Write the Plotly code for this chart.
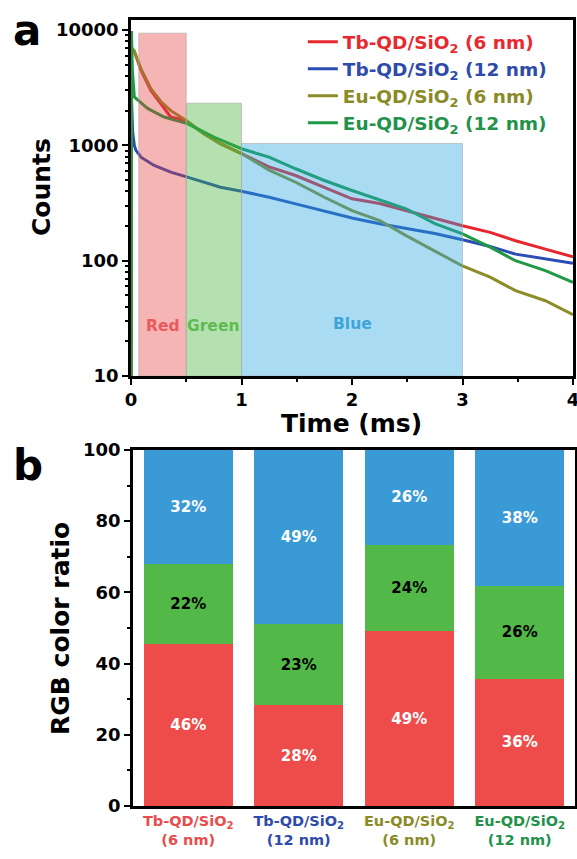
import math
import plotly.graph_objects as go

# ---------------- Panel a: decay curves ----------------
t_tb6 = [0, 0.005, 0.03, 0.09, 0.18, 0.27, 0.36, 0.48, 0.51, 0.66, 0.81, 1.0, 1.25, 1.49, 1.75, 2.0, 2.25, 2.49, 2.75, 3.0, 3.25, 3.48, 3.75, 4.0]
c_tb6 = [10, 7000, 6500, 4490, 3000, 2310, 1760, 1650, 1600, 1260, 1035, 850, 650, 548, 434, 344, 313, 272, 231, 201, 176, 149, 126, 108]

t_tb12 = [0, 0.004, 0.015, 0.03, 0.045, 0.09, 0.21, 0.36, 0.51, 0.81, 1.0, 1.25, 1.49, 1.75, 2.0, 2.25, 2.49, 2.75, 3.0, 3.25, 3.48, 3.75, 4.0]
c_tb12 = [10, 2600, 1300, 1000, 905, 790, 670, 586, 530, 434, 400, 355, 311, 270, 235, 209, 189, 172, 152, 133, 114, 104, 95]

t_eu6 = [0, 0.005, 0.03, 0.09, 0.18, 0.27, 0.36, 0.48, 0.51, 0.66, 0.81, 1.0, 1.25, 1.49, 1.75, 2.0, 2.25, 2.49, 2.75, 3.0, 3.25, 3.48, 3.75, 4.0]
c_eu6 = [10, 7000, 6600, 4600, 3100, 2400, 2000, 1700, 1620, 1260, 1030, 850, 610, 479, 355, 272, 223, 165, 122, 90, 72, 55, 45, 34]

t_eu12 = [0, 0.004, 0.012, 0.03, 0.15, 0.3, 0.51, 0.75, 1.0, 1.25, 1.49, 1.75, 2.0, 2.25, 2.49, 2.75, 3.0, 3.25, 3.48, 3.75, 4.0]
c_eu12 = [10, 9800, 4500, 2630, 2090, 1760, 1545, 1180, 935, 790, 627, 496, 406, 339, 282, 210, 171, 131, 100, 82, 65]

series_names = ["Tb-QD/SiO<sub>2</sub> (6 nm)", "Tb-QD/SiO<sub>2</sub> (12 nm)",
                "Eu-QD/SiO<sub>2</sub> (6 nm)", "Eu-QD/SiO<sub>2</sub> (12 nm)"]
line_colors = ["#E8262E", "#2B4DB3", "#8C8C28", "#1F9944"]
legend_text_colors = ["#E62A30", "#2E4BAA", "#8A8A26", "#22924A"]

# colour windows (shaded regions)
region_names = ["Red", "Green", "Blue"]
region_start = [0.07, 0.5, 1.0]
region_end = [0.5, 1.0, 3.0]
region_top = [9400, 2320, 1040]
region_fill = ["rgba(230,60,60,0.38)", "rgba(70,180,60,0.40)", "rgba(40,165,225,0.40)"]
region_text_color = ["#E85A5C", "#5DBB4F", "#3DA5DA"]
region_label_x = [0.29, 0.742, 2.0]
region_label_y = [27, 27, 28]

# ---------------- Panel b: RGB ratio bars ----------------
samples = ["Tb6", "Tb12", "Eu6", "Eu12"]
sample_labels = ["Tb-QD/SiO<sub>2</sub><br>(6 nm)", "Tb-QD/SiO<sub>2</sub><br>(12 nm)",
                 "Eu-QD/SiO<sub>2</sub><br>(6 nm)", "Eu-QD/SiO<sub>2</sub><br>(12 nm)"]
sample_label_colors = ["#E84C4C", "#2E4BAA", "#8A8A26", "#22924A"]
red_part = [45.6, 28.3, 49.1, 35.8]
green_part = [22.3, 22.7, 24.2, 25.9]
blue_part = [32.1, 49.0, 26.7, 38.3]
red_lbl = [46, 28, 49, 36]
green_lbl = [22, 23, 24, 26]
blue_lbl = [32, 49, 26, 38]
bar_colors = ["#EE4B4B", "#52B848", "#3A9AD6"]

FONT = "DejaVu Sans, Verdana, sans-serif"

fig = go.Figure()

for t, c, name, lc, tc in zip([t_tb6, t_tb12, t_eu6, t_eu12], [c_tb6, c_tb12, c_eu6, c_eu12],
                              series_names, line_colors, legend_text_colors):
    fig.add_trace(go.Scatter(x=t, y=c, mode="lines", line=dict(color=lc, width=3),
                             name=f"<span style='color:{tc}'>{name}</span>",
                             xaxis="x", yaxis="y"))

for nm, x0, x1, top, fc in zip(region_names, region_start, region_end, region_top, region_fill):
    fig.add_trace(go.Scatter(x=[x0, x0, x1, x1, x0], y=[10, top, top, 10, 10], mode="lines",
                             fill="toself", fillcolor=fc,
                             line=dict(color="rgba(170,170,170,0.6)", width=1),
                             showlegend=False, hoverinfo="skip", xaxis="x", yaxis="y"))

for vals, lbls, col, tcol in [(red_part, red_lbl, bar_colors[0], "white"),
                               (green_part, green_lbl, bar_colors[1], "black"),
                               (blue_part, blue_lbl, bar_colors[2], "white")]:
    fig.add_trace(go.Bar(x=samples, y=vals, marker=dict(color=col, line=dict(width=0)),
                         text=[f"{v}%" for v in lbls], textposition="inside",
                         insidetextanchor="middle", textangle=0,
                         textfont=dict(family=FONT, size=15, color=tcol, weight="bold"),
                         showlegend=False, xaxis="x2", yaxis="y2"))

axis_common = dict(showline=True, linewidth=2.5, linecolor="black", mirror=True,
                   ticks="outside", ticklen=6, tickwidth=2, tickcolor="black",
                   showgrid=False, zeroline=False, automargin=False, ticklabeloverflow="allow",
                   tickfont=dict(family=FONT, size=18, color="black", weight="bold"))

fig.update_layout(
    width=577, height=859,
    margin=dict(l=131, r=2, t=20, b=53, autoexpand=False),
    paper_bgcolor="white", plot_bgcolor="white",
    barmode="stack", bargap=0.195,
    font=dict(family=FONT, color="black"),
    xaxis=dict(domain=[0, 0.9955], range=[0, 4], tickvals=[0, 1, 2, 3, 4],
               minor=dict(ticks="outside", ticklen=3, tickwidth=1.5, dtick=0.5, tickcolor="black"),
               anchor="y", **axis_common),
    yaxis=dict(domain=[0.547, 1.0], type="log", range=[1, 4.087],
               tickvals=[10, 100, 1000, 10000], ticktext=["10", "100", "1000", "10000"],
               minor=dict(ticks="outside", ticklen=3, tickwidth=1.5, tickcolor="black",
                          tickvals=[20, 30, 40, 50, 60, 70, 80, 90, 200, 300, 400, 500, 600, 700, 800, 900,
                                    2000, 3000, 4000, 5000, 6000, 7000, 8000, 9000]),
               anchor="x", **axis_common),
    xaxis2=dict(domain=[0.0045, 1.0], anchor="y2", type="category",
                tickvals=samples,
                ticktext=[f"<span style='color:{c}'>{s}</span>" for s, c in zip(sample_labels, sample_label_colors)],
                **{**axis_common, "ticks": "",
                   "tickfont": dict(family=FONT, size=14.5, color="black", weight="bold")}),
    yaxis2=dict(domain=[0, 0.453], anchor="x2", range=[0, 100], dtick=20,
                minor=dict(ticks="outside", ticklen=3, tickwidth=1.5, dtick=10, tickcolor="black"),
                **axis_common),
    legend=dict(x=0.387, y=0.996, xanchor="left", yanchor="top", bgcolor="rgba(0,0,0,0)",
                font=dict(family=FONT, size=18.5, weight="bold"), traceorder="normal"),
)

ann = []
for nm, lx, ly, tc in zip(region_names, region_label_x, region_label_y, region_text_color):
    ann.append(dict(x=lx, y=math.log10(ly), xref="x", yref="y", text=f"<b>{nm}</b>", showarrow=False,
                    xanchor="center", yanchor="middle",
                    font=dict(family=FONT, size=15.5, color=tc)))

ann += [
    dict(x=-0.2027, y=0.7875, xref="paper", yref="paper", text="<b>Counts</b>", textangle=-90,
         font=dict(family=FONT, size=25, color="black")),
    dict(x=0.4977, y=0.4865, xref="paper", yref="paper", text="<b>Time (ms)</b>",
         font=dict(family=FONT, size=25, color="black")),
    dict(x=-0.1577, y=0.2265, xref="paper", yref="paper", text="<b>RGB color ratio</b>", textangle=-90,
         font=dict(family=FONT, size=25, color="black")),
    dict(x=-0.234, y=0.987, xref="paper", yref="paper", text="<b>a</b>",
         font=dict(family=FONT, size=42, color="black")),
    dict(x=-0.232, y=0.4326, xref="paper", yref="paper", text="<b>b</b>",
         font=dict(family=FONT, size=42, color="black")),
]
for a in ann[3:]:
    a.update(showarrow=False, xanchor="center", yanchor="middle")
fig.update_layout(annotations=ann)

fig.write_html("out.html", config={"displayModeBar": False},
               post_script="document.body.style.margin='0px';")
